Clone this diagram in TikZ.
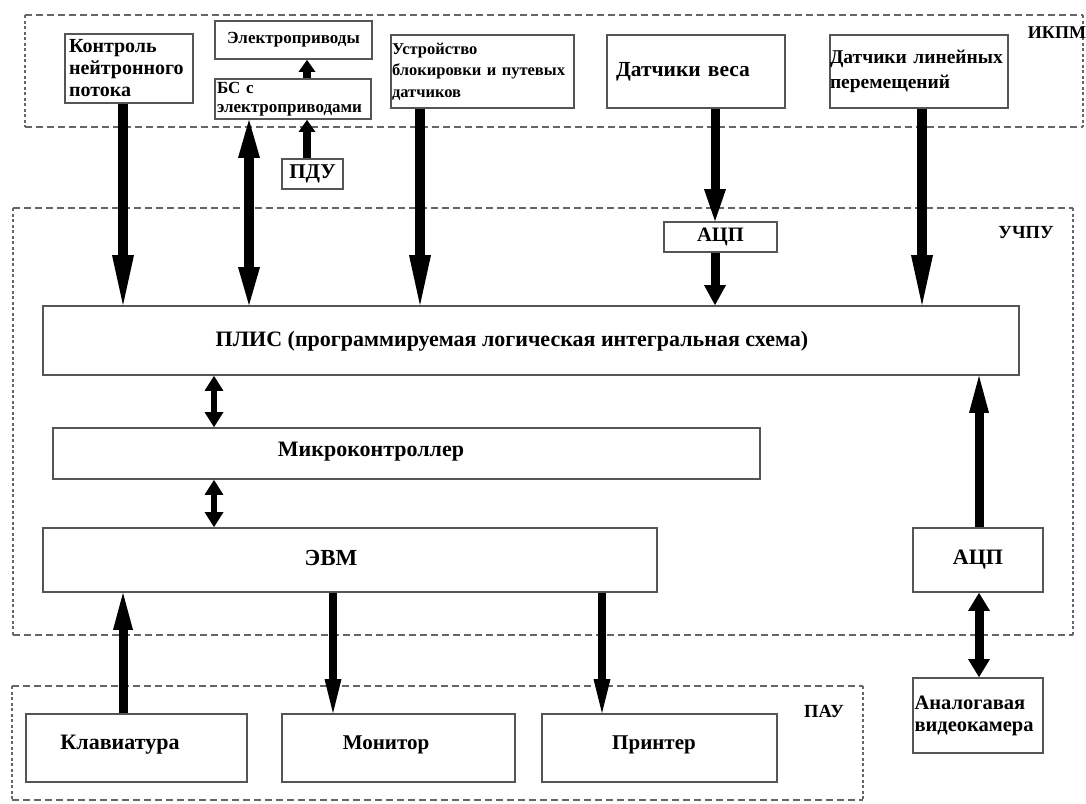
\documentclass[tikz,border=0pt]{standalone}
\usepackage{fontspec}
\setmainfont{Liberation Serif}
\usetikzlibrary{arrows.meta}
\definecolor{boxgray}{HTML}{555555}
\definecolor{framegray}{HTML}{666666}
\begin{document}
\begin{tikzpicture}[x=1pt,y=-1pt,
  box/.style={draw=boxgray, line width=1.8pt, inner sep=0pt, fill=white},
  f17/.style={font=\bfseries\fontsize{17}{19}\selectfont},
  f20/.style={font=\bfseries\fontsize{20}{22}\selectfont},
  f21/.style={font=\bfseries\fontsize{21}{23}\selectfont},
  f22/.style={font=\bfseries\fontsize{22}{24}\selectfont},
  txt/.style={inner sep=0pt},
  hdash/.style={draw=framegray, line width=1.8pt, dash pattern=on 7pt off 4pt},
  vdot/.style={draw=framegray, line width=1.8pt, dash pattern=on 3pt off 2.5pt},
  bigdown/.style={line width=10pt, -{Triangle[length=50pt,width=22pt,line width=0pt]}},
  bsarr/.style={line width=10pt, {Triangle[length=38pt,width=22pt,line width=0pt]}-{Triangle[length=38pt,width=22pt,line width=0pt]}},
  smallup/.style={line width=8pt, -{Triangle[length=12pt,width=17pt,line width=0pt]}},
  medarr/.style={line width=9pt, -{Triangle[length=32pt,width=22pt,line width=0pt]}},
  shortarr/.style={line width=9pt, -{Triangle[length=20pt,width=22pt,line width=0pt]}},
  dbl/.style={line width=6.5pt, {Triangle[length=15pt,width=19pt,line width=0pt]}-{Triangle[length=15pt,width=19pt,line width=0pt]}},
  dblcam/.style={line width=9pt, {Triangle[length=18pt,width=22pt,line width=0pt]}-{Triangle[length=18pt,width=22pt,line width=0pt]}},
  uparr/.style={line width=9pt, -{Triangle[length=37pt,width=20pt,line width=0pt]}},
  downarr/.style={line width=8pt, -{Triangle[length=34pt,width=17pt,line width=0pt]}}
]
\useasboundingbox (0,0) rectangle (1086,803);
\fill[white] (0,0) rectangle (1086,803);

% ---- frames ----
% IKPM
\draw[hdash] (25,15) -- (1083,15);
\draw[hdash] (25,127) -- (1083,127);
\draw[vdot] (25,15) -- (25,127);
\draw[vdot] (1083,15) -- (1083,127);
% UChPU
\draw[hdash] (13,208) -- (1073,208);
\draw[hdash] (13,635) -- (1073,635);
\draw[vdot] (13,208) -- (13,635);
\draw[vdot] (1073,208) -- (1073,635);
% PAU
\draw[hdash] (12,686) -- (863,686);
\draw[hdash] (12,800) -- (863,800);
\draw[vdot] (12,686) -- (12,800);
\draw[vdot] (863,686) -- (863,800);

\node[txt,font=\bfseries\fontsize{18}{20}\selectfont] (ikpm) at (1057,33) {ИКПМ};
\node[txt,font=\bfseries\fontsize{18.5}{20}\selectfont] (uchpu) at (1026,233) {УЧПУ};
\node[txt,font=\bfseries\fontsize{18.5}{20}\selectfont] (pau) at (824,711) {ПАУ};

% ---- top row ----
\node[box,f20,minimum width=128pt,minimum height=69pt,text width=120pt,align=left] (kn) at (129,68.5) {Контроль\\нейтронного\\потока};
\node[box,f17,minimum width=157pt,minimum height=38pt] (ep) at (293.5,40) {Электроприводы};
\node[box,f17,minimum width=156pt,minimum height=40pt,text width=152pt,align=left] (bs) at (293,99) {БС с\\электроприводами};
\node[box,f21,minimum width=61pt,minimum height=30pt] (pdu) at (312.5,174) {ПДУ};
\node[box,minimum width=183pt,minimum height=73pt,text width=181pt,align=left,font=\bfseries\fontsize{16.5}{21.5}\selectfont] (ust) at (482.5,71.5) {Устройство\\блокировки и путевых\\датчиков};
\node[box,font=\bfseries\fontsize{21.5}{24}\selectfont,minimum width=178pt,minimum height=73pt,text width=160pt,align=left] (dv) at (696,71.5) {Датчики веса};
\node[box,minimum width=178pt,minimum height=73pt,text width=178pt,align=left,font=\bfseries\fontsize{19.5}{25}\selectfont] (dl) at (919,71.5) {Датчики линейных\\перемещений\\[4pt]};

% ---- UChPU ----
\node[box,font=\bfseries\fontsize{20.5}{22}\selectfont,minimum width=113pt,minimum height=30pt] (adc1) at (720.5,237) {АЦП};
\node[box,minimum width=976pt,minimum height=69pt] (plis) at (531,340.5) {};
\node[txt,f22] (plisT) at (512,341) {ПЛИС (программируемая логическая интегральная схема)};
\node[box,minimum width=707pt,minimum height=51pt] (mk) at (406.5,453.5) {};
\node[txt,f22] (mkT) at (371,452) {Микроконтроллер};
\node[box,minimum width=614pt,minimum height=64pt] (evm) at (350,560) {};
\node[txt,font=\bfseries\fontsize{23}{25}\selectfont] (evmT) at (331,558) {ЭВМ};
\node[box,f22,minimum width=130pt,minimum height=64pt] (adc2) at (978,560) {АЦП};
\node[box,font=\bfseries\fontsize{20.5}{22}\selectfont,minimum width=130pt,minimum height=75pt,text width=127pt,align=left] (cam) at (978,715.5) {Аналогавая\\видеокамера};

% ---- PAU ----
\node[box,minimum width=221pt,minimum height=68pt] (kl) at (136.5,748) {};
\node[txt,f22] (klT) at (120,745) {Клавиатура};
\node[box,minimum width=233pt,minimum height=68pt] (mon) at (398.5,748) {};
\node[txt,font=\bfseries\fontsize{21}{23}\selectfont] (monT) at (386,745) {Монитор};
\node[box,minimum width=235pt,minimum height=68pt] (pr) at (659.5,748) {};
\node[txt,font=\bfseries\fontsize{21}{23}\selectfont] (prT) at (654,745) {Принтер};

% ---- arrow x positions ----
\coordinate (c1) at (123,0);
\coordinate (c2) at (249,0);
\coordinate (c3) at (307,0);
\coordinate (c4) at (420,0);
\coordinate (c5) at (715,0);
\coordinate (c6) at (922,0);
\coordinate (c7) at (214,0);
\coordinate (c8) at (979,0);
\coordinate (c9) at (333,0);
\coordinate (c10) at (602,0);

% ---- arrows ----
\draw[bigdown] (c1 |- kn.south) -- (c1 |- plis.north);
\draw[bsarr] (c2 |- plis.north) -- (c2 |- bs.south);
\draw[smallup] (c3 |- bs.north) -- (c3 |- ep.south);
\draw[smallup] (c3 |- pdu.north) -- (c3 |- bs.south);
\draw[bigdown] (c4 |- ust.south) -- (c4 |- plis.north);
\draw[medarr] (c5 |- dv.south) -- (c5 |- adc1.north);
\draw[shortarr] (c5 |- adc1.south) -- (c5 |- plis.north);
\draw[bigdown] (c6 |- dl.south) -- (c6 |- plis.north);
\draw[dbl] (c7 |- plis.south) -- (c7 |- mk.north);
\draw[dbl] (c7 |- mk.south) -- (c7 |- evm.north);
\draw[uparr] (c8 |- adc2.north) -- (c8 |- plis.south);
\draw[dblcam] (c8 |- adc2.south) -- (c8 |- cam.north);
\draw[uparr] (c1 |- kl.north) -- (c1 |- evm.south);
\draw[downarr] (c9 |- evm.south) -- (c9 |- mon.north);
\draw[downarr] (c10 |- evm.south) -- (c10 |- pr.north);
\end{tikzpicture}
\end{document}
